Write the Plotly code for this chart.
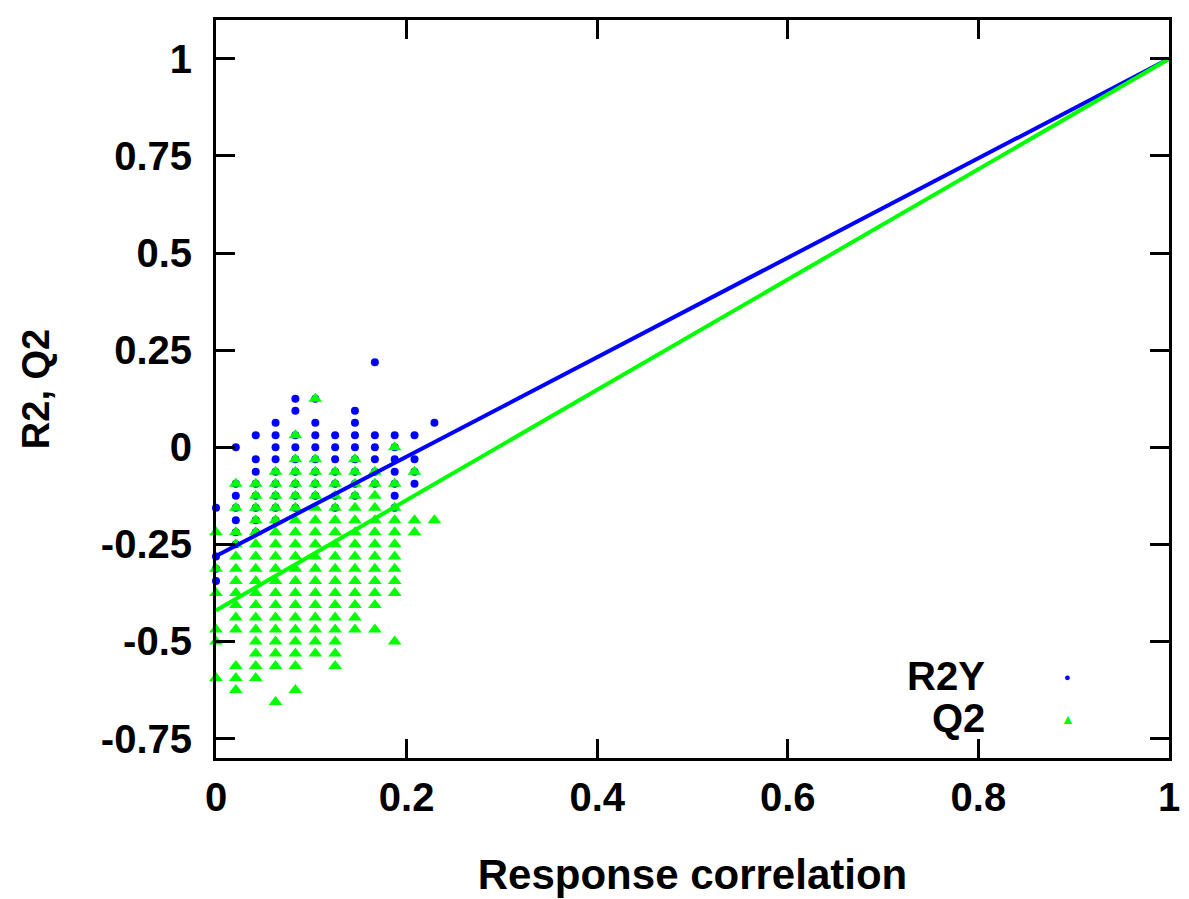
import plotly.graph_objects as go

# response correlation of each permutation column
col_x = [0.0, 0.0208, 0.0417, 0.0625, 0.0833, 0.1042, 0.125, 0.1458, 0.1667, 0.1875, 0.2083, 0.2292]

# R2Y values per column
r2y_cols = [
    [-0.156, -0.281, -0.313, -0.344],
    [0.0, -0.094, -0.125, -0.156, -0.188, -0.219, -0.25],
    [0.031, -0.031, -0.063, -0.094, -0.125, -0.156, -0.188, -0.219],
    [0.063, 0.031, 0.0, -0.031, -0.063, -0.094, -0.125, -0.156, -0.188],
    [0.125, 0.094, 0.031, 0.0, -0.031, -0.063, -0.094, -0.125, -0.156],
    [0.125, 0.063, 0.031, 0.0, -0.031, -0.063, -0.094, -0.125],
    [0.031, 0.0, -0.031, -0.063, -0.094, -0.125, -0.156],
    [0.094, 0.063, 0.031, 0.0, -0.031, -0.063, -0.094, -0.125],
    [0.219, 0.031, 0.0, -0.031, -0.063, -0.094],
    [0.031, 0.0, -0.031, -0.063, -0.094, -0.125, -0.156],
    [0.031, -0.031, -0.063, -0.094],
    [0.063],
]

# Q2 values per column
q2_cols = [
    [-0.219, -0.313, -0.375, -0.469, -0.5, -0.594],
    [-0.094, -0.156, -0.219, -0.25, -0.281, -0.313, -0.344, -0.375, -0.406, -0.438, -0.469,
     -0.563, -0.594, -0.625],
    [-0.094, -0.125, -0.156, -0.188, -0.219, -0.25, -0.281, -0.313, -0.344, -0.375, -0.406,
     -0.438, -0.469, -0.5, -0.531, -0.563, -0.594],
    [-0.063, -0.094, -0.125, -0.156, -0.188, -0.219, -0.25, -0.281, -0.313, -0.344, -0.375,
     -0.406, -0.438, -0.469, -0.5, -0.531, -0.563, -0.656],
    [0.031, -0.031, -0.063, -0.094, -0.125, -0.156, -0.188, -0.219, -0.25, -0.281, -0.313,
     -0.344, -0.375, -0.406, -0.438, -0.469, -0.5, -0.531, -0.563, -0.625],
    [0.125, -0.031, -0.063, -0.094, -0.125, -0.156, -0.188, -0.219, -0.25, -0.281, -0.313,
     -0.344, -0.375, -0.406, -0.438, -0.469, -0.5, -0.531],
    [-0.063, -0.094, -0.125, -0.156, -0.188, -0.219, -0.25, -0.281, -0.313, -0.344, -0.375,
     -0.406, -0.438, -0.469, -0.5, -0.531, -0.563],
    [-0.031, -0.063, -0.094, -0.125, -0.156, -0.188, -0.219, -0.25, -0.281, -0.313, -0.344,
     -0.375, -0.406, -0.438, -0.469],
    [-0.063, -0.094, -0.125, -0.156, -0.188, -0.219, -0.25, -0.281, -0.313, -0.344, -0.375,
     -0.406, -0.469],
    [0.0, -0.094, -0.156, -0.188, -0.219, -0.25, -0.281, -0.313, -0.344, -0.375, -0.5],
    [-0.063, -0.188, -0.219],
    [-0.188],
]

# regression lines (intercept at 0, original model at 1)
fit_x = [0.0, 1.0]
r2y_fit = [-0.28, 1.0]
q2_fit = [-0.42, 1.0]

x_ticks = [0, 0.2, 0.4, 0.6, 0.8, 1]
x_labels = ["0", "0.2", "0.4", "0.6", "0.8", "1"]
y_ticks = [-0.75, -0.5, -0.25, 0, 0.25, 0.5, 0.75, 1]
y_labels = ["-0.75", "-0.5", "-0.25", "0", "0.25", "0.5", "0.75", "1"]

BLUE = "rgb(0,0,255)"
GREEN = "rgb(0,255,0)"
FAMILY = "Liberation Sans, Arial, sans-serif"
TICK_FONT = dict(family=FAMILY, size=40, color="black", weight="bold")
TITLE_FONT = dict(family=FAMILY, size=42, color="black", weight="bold")

r2y_x = [col_x[i] for i, col in enumerate(r2y_cols) for _ in col]
r2y_y = [v for col in r2y_cols for v in col]
q2_x = [col_x[i] for i, col in enumerate(q2_cols) for _ in col]
q2_y = [v for col in q2_cols for v in col]

fig = go.Figure()
fig.add_trace(go.Scatter(x=r2y_x, y=r2y_y, mode="markers", name="R2Y", cliponaxis=False,
                         marker=dict(symbol="circle", size=8, color=BLUE)))
fig.add_trace(go.Scatter(x=q2_x, y=q2_y, mode="markers", name="Q2", cliponaxis=False,
                         marker=dict(symbol="triangle-up", size=12, color=GREEN)))
fig.add_trace(go.Scatter(x=fit_x, y=r2y_fit, mode="lines", line=dict(color=BLUE, width=4)))
fig.add_trace(go.Scatter(x=fit_x, y=q2_fit, mode="lines", line=dict(color=GREEN, width=4)))

axis_style = dict(
    showline=True, linecolor="black", linewidth=3, mirror="ticks",
    ticks="inside", ticklen=19, tickwidth=3, tickcolor="black",
    showgrid=False, zeroline=False, tickfont=TICK_FONT,
)

# the page body adds an 8px offset, so the figure is 8px smaller on each side
fig.update_layout(
    width=1181, height=891,
    margin=dict(l=208, r=16, t=9, b=141),
    paper_bgcolor="white", plot_bgcolor="white",
    showlegend=False,
    xaxis=dict(range=[0, 1], tickvals=x_ticks, ticktext=x_labels, ticklabelstandoff=2,
               title=dict(text="Response correlation", font=TITLE_FONT, standoff=42), **axis_style),
    yaxis=dict(range=[-0.8, 1.1], tickvals=y_ticks, ticktext=y_labels, ticklabelstandoff=13,
               title=dict(text="R2, Q2", font=dict(TITLE_FONT, size=38), standoff=40), **axis_style),
    annotations=[
        dict(x=0.809, y=0.111, xref="paper", yref="paper", text="R2Y", showarrow=False,
             xanchor="right", yanchor="middle", font=TICK_FONT),
        dict(x=0.809, y=0.054, xref="paper", yref="paper", text="Q2", showarrow=False,
             xanchor="right", yanchor="middle", font=TICK_FONT),
        dict(x=0.894, y=0.111, xref="paper", yref="paper", text="●", showarrow=False,
             xanchor="center", yanchor="middle", font=dict(size=11, color=BLUE)),
        dict(x=0.894, y=0.054, xref="paper", yref="paper", text="▲", showarrow=False,
             xanchor="center", yanchor="middle", font=dict(size=14, color=GREEN)),
    ],
)

fig.write_html("out.html")
